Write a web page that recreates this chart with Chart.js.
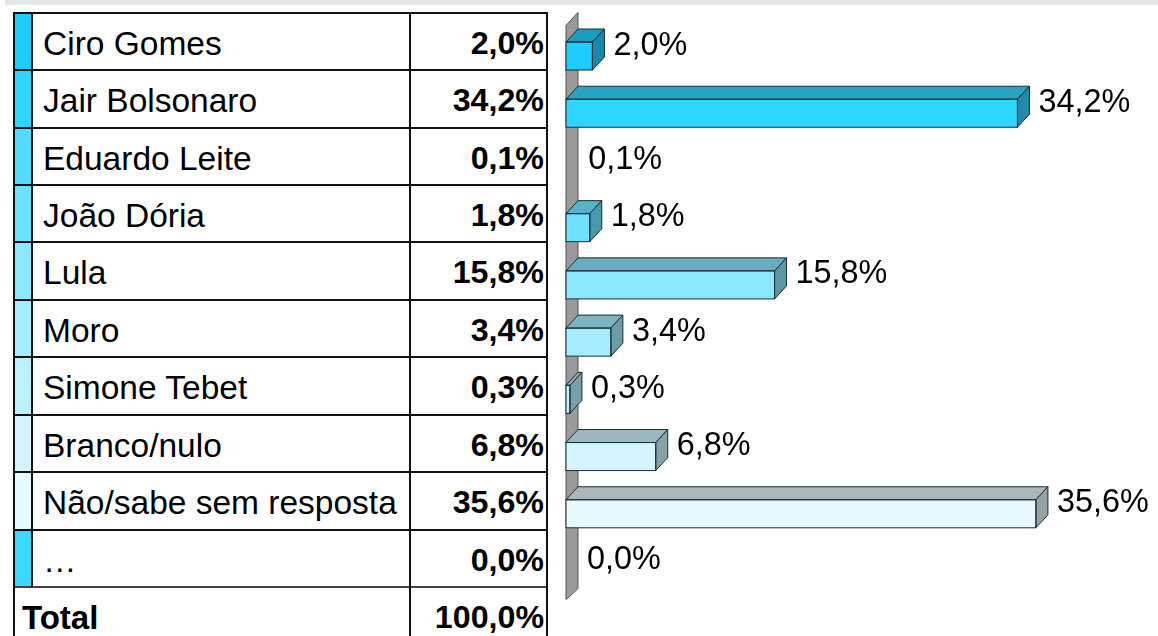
<!DOCTYPE html>
<html>
<head>
<meta charset="utf-8">
<script src="https://cdn.jsdelivr.net/npm/chart.js@4.4.1/dist/chart.umd.min.js"></script>
<style>
  html, body { margin: 0; padding: 0; background: #fff; width: 1158px; height: 636px; overflow: hidden;
    font-family: "Liberation Sans", Arial, sans-serif; }
  #band { position: absolute; left: 5px; top: 0; width: 1153px; height: 5px; background: #e6e7e8; }
  #table { position: absolute; left: 0; top: 0; width: 560px; height: 636px; }
  .ln { position: absolute; background: #111; }
  .txt { position: absolute; white-space: nowrap; font-size: 33.5px; color: #000; }
  .num { font-weight: bold; text-align: right; font-size: 32.2px; }
  #wrap { position: absolute; left: 550px; top: 0; width: 608px; height: 636px; }
</style>
</head>
<body>
<div id="band"></div>
<div id="table"></div>
<div id="wrap"><canvas id="c" width="608" height="636"></canvas></div>
<script>
// Poll results: answer options and their shares (%)
const candidates = ['Ciro Gomes', 'Jair Bolsonaro', 'Eduardo Leite', 'João Dória', 'Lula', 'Moro',
  'Simone Tebet', 'Branco/nulo', 'Não/sabe sem resposta', '…'];
const shares = [2.0, 34.2, 0.1, 1.8, 15.8, 3.4, 0.3, 6.8, 35.6, 0.0];
const totalLabel = 'Total';
const totalShare = 100.0;

// Palette: front face / strip, top face, side face
const frontColors = ['#1dcdfd', '#2ed5ff', '#53dbff', '#6de1ff', '#8ae8ff', '#a4ecff', '#bdf1ff', '#d3f5ff', '#e6f9ff', '#3ed7ff'];
const topColors   = ['#1a9dc0', '#27a3c3', '#45aac6', '#56b3cb', '#69aec0', '#7bb5c2', '#8ab3bd', '#9db7be', '#aab8bc', '#2aa3c3'];
const sideColors  = ['#1788a6', '#218aa6', '#3c96ad', '#4a98ac', '#5d97a5', '#6b9da7', '#78a0a8', '#87a1a7', '#96a3a6', '#2289a6'];

const fmt = v => v.toFixed(1).replace('.', ',') + '%';

// ---- Table on the left ----
const tbl = document.getElementById('table');
const G = { left: 13, top: 12.8, rowH: 57.42, strip: 31, sep: 409, right: 547 };
function box(cls, l, t, w, h, extra) {
  const d = document.createElement('div');
  d.className = cls;
  d.style.left = l + 'px'; d.style.top = t + 'px';
  d.style.width = w + 'px'; d.style.height = h + 'px';
  if (extra) Object.assign(d.style, extra);
  tbl.appendChild(d);
  return d;
}
function text(str, l, t, w, h, cls, extra) {
  const d = box('txt ' + (cls || ''), l, t, w, h, Object.assign({ lineHeight: h + 'px' }, extra || {}));
  d.textContent = str;
}
const nRows = candidates.length;
for (let i = 0; i < nRows; i++) {
  const top = G.top + G.rowH * i;
  box('', G.left, top, G.strip - G.left, G.rowH, { position: 'absolute', background: frontColors[i] });
  text(candidates[i], 43, top + 2, 360, G.rowH);
  text(fmt(shares[i]), G.sep, top + 2, G.right - G.sep - 3, G.rowH, 'num');
}
const totalTop = G.top + G.rowH * nRows;
text(totalLabel, 22, totalTop + 1.5, 300, G.rowH, '', { fontWeight: 'bold', fontSize: '33px' });
text(fmt(totalShare), G.sep, totalTop + 1.5, G.right - G.sep - 3, G.rowH, 'num');
// grid lines
for (let i = 0; i <= nRows; i++) {
  const y = G.top + G.rowH * i;
  box('ln', G.left, y - 1, G.right - G.left + 1, 2, i === nRows ? { background: '#444' } : null);
}
box('ln', G.left, G.top - 1, 2, 636);
box('ln', G.strip, G.top - 1, 2, totalTop - G.top + 1);
box('ln', G.sep, G.top - 1, 2, 636);
box('ln', G.right - 1, G.top - 1, 2, 636);

// ---- 3D bar chart ----
const DX = 12, DY = 13;

const wallPlugin = {
  id: 'wall',
  beforeDatasetsDraw(chart) {
    const { ctx, chartArea: a } = chart;
    const x0 = a.left;
    ctx.save();
    ctx.beginPath();
    ctx.moveTo(x0, a.bottom);
    ctx.lineTo(x0, a.top - 2);
    ctx.lineTo(x0 + DX, a.top - 2 - DY);
    ctx.lineTo(x0 + DX, a.bottom - 11);
    ctx.closePath();
    ctx.fillStyle = '#9a9a9a';
    ctx.fill();
    ctx.lineWidth = 1;
    ctx.strokeStyle = '#555';
    ctx.stroke();
    ctx.restore();
  }
};

const facesPlugin = {
  id: 'faces',
  afterDatasetsDraw(chart) {
    const { ctx } = chart;
    const meta = chart.getDatasetMeta(0);
    ctx.save();
    ctx.lineWidth = 1;
    ctx.strokeStyle = '#1e2c31';
    meta.data.forEach((el, i) => {
      const p = el.getProps(['x', 'y', 'base', 'height'], true);
      const x0 = p.base, x1 = p.x;
      const yT = p.y - p.height / 2, yB = p.y + p.height / 2;
      // bars thinner than two pixels are not given a 3D body
      if (x1 - x0 >= 2) {
        // top face
        ctx.beginPath();
        ctx.moveTo(x0, yT); ctx.lineTo(x0 + DX, yT - DY); ctx.lineTo(x1 + DX, yT - DY); ctx.lineTo(x1, yT);
        ctx.closePath();
        ctx.fillStyle = topColors[i]; ctx.fill(); ctx.stroke();
        // side face
        ctx.beginPath();
        ctx.moveTo(x1, yT); ctx.lineTo(x1 + DX, yT - DY); ctx.lineTo(x1 + DX, yB - DY); ctx.lineTo(x1, yB);
        ctx.closePath();
        ctx.fillStyle = sideColors[i]; ctx.fill(); ctx.stroke();
        // front outline
        ctx.strokeRect(x0, yT, x1 - x0, yB - yT);
      }
      // value label
      ctx.fillStyle = '#000';
      ctx.font = '32.4px "Liberation Sans", Arial, sans-serif';
      ctx.textAlign = 'left';
      ctx.textBaseline = 'alphabetic';
      ctx.fillText(fmt(shares[i]), x1 + DX + 9, p.y - 1.5);
    });
    ctx.restore();
  }
};

new Chart(document.getElementById('c'), {
  type: 'bar',
  data: {
    labels: candidates,
    datasets: [{
      data: shares,
      backgroundColor: (c) => (c.parsed && Math.abs(c.parsed.x) * 13.2 < 2) ? 'rgba(0,0,0,0)' : frontColors[c.dataIndex],
      borderWidth: 0,
      barPercentage: 0.49,
      categoryPercentage: 1
    }]
  },
  options: {
    indexAxis: 'y',
    responsive: false,
    maintainAspectRatio: false,
    animation: false,
    layout: { padding: { left: 16, top: 27.4, bottom: 36.4, right: 64 } },
    scales: {
      x: { min: 0, max: 40, display: false },
      y: { display: false }
    },
    plugins: { legend: { display: false }, tooltip: { enabled: false } }
  },
  plugins: [wallPlugin, facesPlugin]
});
</script>
</body>
</html>
